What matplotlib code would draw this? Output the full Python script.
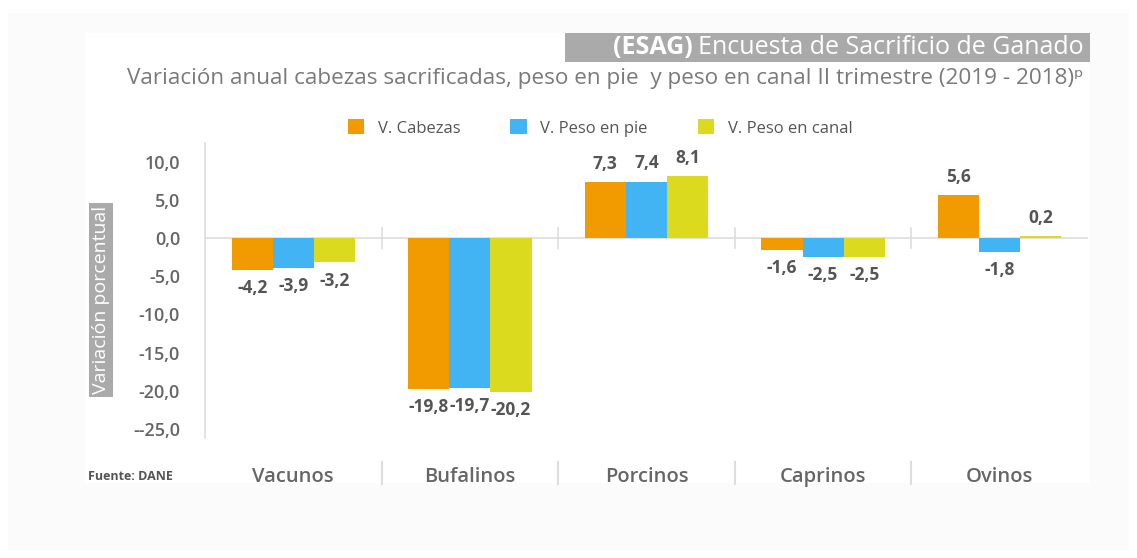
import matplotlib
matplotlib.use("Agg")
import matplotlib.pyplot as plt
from matplotlib.patches import Rectangle
import numpy as np

plt.rcParams['font.family'] = ['Open Sans', 'DejaVu Sans']

# data
categorias = ["Vacunos", "Bufalinos", "Porcinos", "Caprinos", "Ovinos"]
series = ["V. Cabezas", "V. Peso en pie", "V. Peso en canal"]
v_cabezas = [-4.2, -19.8, 7.3, -1.6, 5.6]
v_peso_pie = [-3.9, -19.7, 7.4, -2.5, -1.8]
v_peso_canal = [-3.2, -20.2, 8.1, -2.5, 0.2]
yticks = [10, 5, 0, -5, -10, -15, -20, -25]
ytick_labels = ["10,0", "5,0", "0,0", "-5,0", "-10,0", "-15,0", "-20,0", "--25,0"]

COLORS = ["#F29B00", "#42B4F4", "#DCDA1F"]
GRAY = "#666666"
W, H = 1137, 558

fig = plt.figure(figsize=(W/100, H/100), dpi=100)
fig.patch.set_facecolor("white")

# background panels
fig.patches.append(Rectangle((8/W, 1-550/H), (1129-8)/W, (550-13)/H, transform=fig.transFigure,
                             facecolor="#fbfbfb", edgecolor="none", zorder=-10))
fig.patches.append(Rectangle((85/W, 1-483/H), (1090-85)/W, (483-33)/H, transform=fig.transFigure,
                             facecolor="white", edgecolor="none", zorder=-9))

ax = fig.add_axes([205/W, 1-438/H, (1088-205)/W, (438-143)/H])
ax.set_facecolor("none")

x = np.arange(len(categorias))
bw = 0.233
for i, (vals, c) in enumerate(zip([v_cabezas, v_peso_pie, v_peso_canal], COLORS)):
    xs = x + (i-1)*bw
    ax.bar(xs, vals, bw, color=c, label=series[i], zorder=3)
    for xv, v in zip(xs, vals):
        off = 13 if v >= 0 else -13
        ax.annotate(f"{v:.1f}".replace(".", ","), (xv, v), xytext=(0, off), textcoords="offset points",
                    ha="center", va="center", fontsize=12.5, fontweight="bold", color="#555555")

ax.set_xlim(-0.5, 4.5)
ax.set_ylim(-26.2, 12.45)
ax.axhline(0, color="#dddddd", lw=1.2, zorder=1)
for b in np.arange(0.5, 4.5, 1):
    ax.plot([b, b], [-1.3, 1.3], color="#dddddd", lw=1.2, zorder=1)

for s in ["top", "right", "bottom"]:
    ax.spines[s].set_visible(False)
ax.spines["left"].set_color("#dddddd")
ax.spines["left"].set_linewidth(1.2)

ax.set_yticks(yticks)
ax.set_yticklabels(ytick_labels)
ax.tick_params(axis="y", length=0, pad=18, labelsize=13, labelcolor=GRAY)
for t in ax.get_yticklabels():
    t.set_fontweight("semibold")

ax.set_xticks(x)
ax.set_xticklabels(categorias)
ax.tick_params(axis="x", length=0, pad=21, labelsize=14.5, labelcolor=GRAY)
for t in ax.get_xticklabels():
    t.set_fontweight("semibold")

# separators in category band
trans = ax.get_xaxis_transform()
for b in np.arange(0.5, 4.5, 1):
    ax.plot([b, b], [-(462-438)/295, -(484-438)/295], color="#dddddd", lw=1.5,
            transform=trans, clip_on=False)

# y label box
fig.text(101/W, 1-300/H, "Variación porcentual", rotation=90, ha="center", va="center",
         fontsize=14, color="white",
         bbox=dict(boxstyle="square,pad=0.15", facecolor="#aaaaaa", edgecolor="none"))

# title
fig.patches.append(Rectangle((565/W, 1-62/H), (1090-565)/W, (62-33)/H, transform=fig.transFigure,
                             facecolor="#aaaaaa", edgecolor="none", zorder=-5))
t2 = fig.text(1084/W, 1-47/H, "Encuesta de Sacrificio de Ganado", ha="right", va="center",
              fontsize=18, color="white")
fig.canvas.draw()
bb = t2.get_window_extent()
fig.text(bb.x0/W - 6/W, 1-47/H, "(ESAG)", ha="right", va="center", fontsize=18,
         fontweight="bold", color="white")

fig.text(1084/W, 1-79/H, "Variación anual cabezas sacrificadas, peso en pie  y peso en canal II trimestre (2019 - 2018)ᵖ",
         ha="right", va="center", fontsize=16.2, color="#7a7a7a")

fig.legend(loc="center", bbox_to_anchor=(600/W, 1-128/H), ncol=3, frameon=False,
           fontsize=12, handlelength=1.0, handleheight=1.0, columnspacing=3.0,
           handletextpad=0.8, labelcolor="#555555")

fig.text(88/W, 1-477/H, "Fuente: DANE", ha="left", va="center", fontsize=9,
         fontweight="bold", color="#555555")

fig.savefig("out.png", dpi=100)
